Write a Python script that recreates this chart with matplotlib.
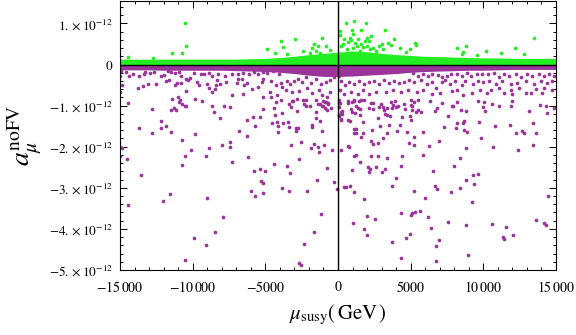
import numpy as np
import matplotlib
matplotlib.use('Agg')
import matplotlib.pyplot as plt

plt.rcParams['font.family'] = ['STIXGeneral', 'DejaVu Serif']
plt.rcParams['mathtext.fontset'] = 'stix'

# envelope of the dense bands near zero (x in GeV, y in units of 1e-12)
band_x = [-15000, -14000, -13000, -12000, -11000, -10000, -9000, -8000, -7000, -6000, -5000,
          -4000, -3000, -2000, -1000, 0, 1000, 2000, 3000, 4000, 5000,
          6000, 7000, 8000, 9000, 10000, 11000, 12000, 13000, 14000, 15000]
green_top = [0.13, 0.13, 0.13, 0.13, 0.13, 0.13, 0.13, 0.13, 0.13, 0.14, 0.15,
             0.17, 0.20, 0.24, 0.27, 0.30, 0.33, 0.31, 0.27, 0.24, 0.22,
             0.20, 0.19, 0.18, 0.17, 0.16, 0.16, 0.15, 0.15, 0.15, 0.15]
purple_bottom = [-0.13, -0.13, -0.13, -0.14, -0.14, -0.14, -0.14, -0.14, -0.15, -0.16, -0.17,
                 -0.19, -0.22, -0.26, -0.29, -0.29, -0.28, -0.26, -0.24, -0.22, -0.19,
                 -0.17, -0.16, -0.15, -0.14, -0.14, -0.13, -0.12, -0.12, -0.12, -0.12]

# scattered green points above the band
green_pts = [
    (-10550, 1.00), (-10430, 0.44), (-11390, 0.27), (-10700, 0.27), (-14450, 0.18), (-12730, 0.16),
    (-4860, 0.37), (-3890, 0.56), (-3760, 0.42), (-2930, 0.61), (-1070, 0.64), (-1650, 0.50),
    (-1380, 0.44), (-850, 0.44), (-1760, 0.40), (-1490, 0.34), (-4310, 0.27), (-3510, 0.26),
    (-2410, 0.32), (-1900, 0.27), (-1260, 0.28), (-570, 0.36), (530, 1.00), (1080, 1.05),
    (1910, 1.00), (170, 0.81), (120, 0.71), (960, 0.83), (1030, 0.75), (1560, 0.84),
    (2300, 0.69), (2020, 0.65), (1890, 0.58), (3260, 0.84), (810, 0.64), (920, 0.60),
    (1200, 0.53), (340, 0.50), (230, 0.46), (3850, 0.61), (5280, 0.52), (5390, 0.48),
    (2820, 0.46), (3060, 0.50), (3440, 0.52), (3670, 0.48), (2130, 0.57), (4250, 0.41),
    (4980, 0.38), (4660, 0.30), (8220, 0.40), (8830, 0.44), (8530, 0.26), (8600, 0.30),
    (9560, 0.24), (10210, 0.34), (11190, 0.27), (12210, 0.40), (12780, 0.26), (13460, 0.64),
    (2410, 0.41), (2640, 0.34), (1720, 0.42), (1490, 0.34), (600, 0.38), (1300, 0.45),
    (1000, 0.40), (2000, 0.45), (700, 0.55), (1600, 0.50), (2200, 0.38), (3100, 0.37),
    (400, 0.62), (1400, 0.62),
]

# purple points just below the band
purple_near = [
    (-14930, -0.16), (-14610, -0.19), (-14350, -0.29), (-14080, -0.23), (-13710, -0.27), (-13370, -0.24),
    (-13280, -0.19), (-12910, -0.21), (-12680, -0.19), (-12150, -0.29), (-11990, -0.25), (-11720, -0.16),
    (-11490, -0.19), (-11210, -0.21), (-10910, -0.19), (-10800, -0.27), (-10460, -0.35), (-10290, -0.37),
    (-10200, -0.34), (-10800, -0.45), (-11210, -0.51), (-11080, -0.46), (-11830, -0.39), (-11650, -0.37),
    (-14970, -0.29), (-14880, -0.51), (-13780, -0.58), (-13420, -0.53), (-13090, -0.47), (-12490, -0.47),
    (-10430, -0.65), (-14970, -0.66), (-11440, -0.83), (-10980, -0.78), (-10940, -0.92),
    (-9880, -0.21), (-9720, -0.43), (-9430, -0.24), (-9190, -0.23), (-8880, -0.21), (-8640, -0.27),
    (-8230, -0.23), (-7770, -0.29), (-7310, -0.24), (-6850, -0.24), (-6510, -0.21), (-6100, -0.24),
    (-5800, -0.19), (-5480, -0.24), (-5130, -0.19), (-9540, -0.49), (-9030, -0.47), (-8880, -0.57),
    (-8690, -0.67), (-8390, -0.49), (-8350, -0.37), (-8140, -0.47), (-8460, -0.59), (-7730, -0.43),
    (-6970, -0.45), (-6850, -0.36), (-6630, -0.35), (-6440, -0.51), (-6280, -0.44), (-5940, -0.59),
    (-5480, -0.55), (-5200, -0.43), (-5130, -0.36), (-7310, -0.74), (-6510, -0.71), (-5130, -0.79),
    (-9840, -0.83),
    (-4860, -0.21), (-4470, -0.16), (-4060, -0.23), (-4630, -0.39), (-3940, -0.45), (-4290, -0.49),
    (-3830, -0.55), (-3480, -0.39), (-3320, -0.47), (-3030, -0.41), (-2720, -0.35), (-2450, -0.43),
    (-2220, -0.31), (-1880, -0.45), (-1530, -0.35), (-1190, -0.47), (-850, -0.43), (-570, -0.37),
    (-280, -0.31), (-3600, -0.61), (-3140, -0.67), (-2680, -0.65), (-2110, -0.58), (-1760, -0.70),
    (-1310, -0.61), (-1070, -0.75), (-570, -0.67), (-4700, -0.67), (-4170, -0.75), (-3940, -0.87),
    (-4630, -0.79), (-2790, -0.83), (-2170, -0.86), (-1530, -0.87), (-850, -0.92), (-730, -0.79),
    (-3250, -1.04), (-2220, -1.00), (-500, -1.05),
    (100, -0.27), (210, -0.39), (480, -0.49), (780, -0.43), (1130, -0.47), (1470, -0.41),
    (1820, -0.47), (2160, -0.43), (2500, -0.41), (2850, -0.47), (3190, -0.37), (3540, -0.45),
    (3880, -0.39), (4220, -0.45), (4570, -0.43), (4910, -0.37), (170, -0.63), (440, -0.71),
    (890, -0.67), (1360, -0.71), (1700, -0.61), (2160, -0.71), (2610, -0.67), (3300, -0.67),
    (3760, -0.63), (4330, -0.67), (4800, -0.63), (100, -0.87), (670, -0.89), (1130, -0.87),
    (2270, -0.94), (2960, -0.95), (3650, -0.92), (4110, -1.02), (4570, -0.95), (5020, -0.87),
    (890, -1.08), (2160, -1.05), (3190, -1.10),
    (5190, -0.21), (5530, -0.27), (5880, -0.24), (6220, -0.29), (6500, -0.23), (6860, -0.26),
    (7180, -0.31), (7480, -0.29), (7770, -0.24), (8170, -0.24), (8510, -0.27), (8860, -0.21),
    (9150, -0.27), (9540, -0.23), (9890, -0.24), (5260, -0.43), (5710, -0.37), (6100, -0.47),
    (6450, -0.43), (6720, -0.57), (7140, -0.43), (7360, -0.37), (7710, -0.47), (8050, -0.41),
    (8510, -0.51), (8740, -0.41), (9320, -0.47), (9660, -0.39), (10000, -0.43), (5420, -0.67),
    (5880, -0.63), (6450, -0.71), (7020, -0.70), (7820, -0.65), (8170, -0.61), (8630, -0.75),
    (9200, -0.70), (9770, -0.61), (5530, -0.87), (6330, -0.89), (9660, -0.89), (5530, -1.10),
    (6790, -1.05), (7940, -1.00), (10000, -1.04),
    (10350, -0.24), (10730, -0.21), (11080, -0.31), (11420, -0.24), (11770, -0.29), (12230, -0.23),
    (12570, -0.31), (13030, -0.24), (13380, -0.29), (13830, -0.23), (14170, -0.29), (14520, -0.24),
    (14860, -0.27), (10390, -0.39), (10850, -0.47), (11310, -0.41), (11880, -0.47), (12340, -0.45),
    (12910, -0.39), (13490, -0.47), (13950, -0.41), (14410, -0.45), (14750, -0.39), (10510, -0.63),
    (11080, -0.57), (11880, -0.61), (12450, -0.57), (13600, -0.59), (14170, -0.57), (14750, -0.63),
    (10280, -0.70), (11420, -0.70), (12000, -0.71), (12910, -0.70), (13260, -0.70), (14060, -0.70),
    (10620, -0.95), (11880, -1.00), (14290, -1.02),
]

# sparse purple points further down
purple_far = [
    (-14470, -0.94), (-12770, -1.09), (-11460, -1.10), (-11300, -1.07), (-11170, -1.10), (-10700, -0.97),
    (-10550, -1.00), (-10430, -1.01), (-10890, -0.87), (-9330, -0.89), (-8690, -1.01), (-8500, -1.16),
    (-7860, -1.01), (-7450, -1.04), (-8090, -1.30), (-13660, -1.55), (-12820, -1.67), (-12150, -1.38),
    (-12150, -1.55), (-11810, -1.50), (-11460, -1.64), (-10700, -1.84), (-9810, -1.69), (-10090, -2.09),
    (-10530, -2.23), (-10700, -2.44), (-9050, -2.23), (-8850, -2.02), (-8000, -1.96), (-7400, -1.89),
    (-7400, -2.01), (-7310, -2.37), (-6780, -1.62), (-6230, -1.36), (-6230, -1.74), (-5820, -1.28),
    (-5680, -1.50), (-5390, -1.28), (-5180, -1.09), (-6160, -2.25), (-4380, -1.06), (-4310, -1.24),
    (-4270, -0.92), (-3830, -1.19), (-3760, -1.43), (-4510, -1.43), (-4170, -1.40), (-4130, -1.50),
    (-4100, -1.65), (-3410, -1.40), (-3390, -1.53), (-3370, -0.96), (-3190, -0.90), (-3100, -0.88),
    (-2860, -1.54), (-2770, -1.54), (-2840, -1.13), (-2910, -1.63), (-2380, -0.87), (-2310, -0.95),
    (-1950, -1.00), (-1810, -1.46), (-1810, -1.52), (-1530, -1.16), (-1510, -1.29), (-1210, -1.38),
    (-1350, -0.95), (-1240, -0.97), (-1120, -1.00), (-1000, -1.01), (-890, -1.07), (-780, -1.10),
    (-660, -0.95), (-1030, -0.89), (-890, -0.92), (-710, -0.94), (-1070, -1.62), (-3210, -1.96),
    (-2550, -1.89), (-1830, -2.02), (-1650, -1.93), (-1400, -2.01), (-1330, -2.14), (-940, -1.96),
    (-2680, -2.30), (-730, -2.52), (-3280, -2.63), (-4380, -2.43), (-3480, -2.47), (-5750, -2.60),
    (-5000, -2.60), (-5390, -2.54), (-5320, -2.83), (-5180, -2.88), (-5160, -3.13), (-6010, -3.07),
    (-5680, -3.20), (-3830, -3.00), (-3340, -3.07), (-2150, -3.07), (-1470, -2.81), (-300, -2.86),
    (-40, -3.03), (-14970, -2.01), (-14830, -2.02), (-14970, -2.23), (-14490, -2.30), (-13530, -2.69),
    (-14420, -3.42), (-12010, -3.32), (-11580, -3.15), (-8990, -3.25), (-7880, -3.71), (-8440, -4.07),
    (-9930, -4.23), (-9050, -4.39), (-10550, -4.75), (-1620, -4.07), (-1140, -3.63), (-2310, -4.36),
    (-2680, -4.82), (-2520, -4.87), (-430, -2.08),
    (120, -0.94), (230, -1.16), (300, -1.21), (100, -1.23), (190, -1.32), (230, -1.34),
    (50, -0.94), (70, -1.04), (280, -1.13), (50, -1.25), (690, -0.94), (990, -0.92),
    (1080, -0.89), (1270, -1.00), (1400, -1.05), (1490, -1.08), (1610, -0.87), (1790, -0.87),
    (1510, -1.24), (1420, -0.90), (940, -1.16), (1150, -1.18), (830, -1.38), (720, -1.34),
    (1720, -1.40), (1100, -1.57), (1240, -1.58), (1100, -1.66), (1270, -1.66), (1720, -1.67),
    (1560, -1.77), (2410, -1.09), (2440, -0.94), (2820, -1.04), (3120, -1.04), (3350, -1.05),
    (3580, -1.26), (3400, -1.24), (3210, -1.20), (3700, -1.06), (3810, -0.98), (4020, -1.04),
    (3950, -0.90), (2780, -1.30), (2870, -1.50), (2320, -1.60), (3490, -1.47), (3350, -1.67),
    (4430, -1.27), (4290, -1.47), (4040, -1.62), (4780, -1.64), (4950, -1.25), (5050, -1.34),
    (4890, -1.92), (5230, -1.77), (5260, -1.96), (5850, -1.64), (230, -2.09), (670, -1.98),
    (740, -2.01), (1080, -2.23), (1240, -2.21), (1540, -2.38), (990, -2.57), (2250, -1.85),
    (2440, -1.93), (2750, -1.91), (3080, -1.79), (2250, -2.23), (2730, -2.23), (3400, -2.27),
    (2090, -2.49), (2230, -2.55), (2130, -2.61), (2640, -2.50), (3060, -2.61), (3260, -2.55),
    (4430, -2.23), (4360, -2.47), (4020, -2.76), (440, -2.97), (530, -2.99), (810, -2.95),
    (1130, -3.10), (1820, -3.27), (3740, -2.95), (5210, -3.08), (6010, -3.25), (5880, -2.20),
    (6290, -1.98), (6980, -1.86), (6560, -2.59), (6670, -2.96), (6840, -3.03), (7800, -3.10),
    (8010, -2.47), (8420, -2.27), (8420, -3.00), (8830, -2.81), (8830, -2.03), (9270, -2.69),
    (9660, -2.66), (9340, -2.91), (9250, -3.34), (9870, -1.80), (10690, -2.01), (10830, -1.50),
    (11830, -1.47), (12270, -1.66), (12690, -1.62), (12820, -1.67), (12410, -2.08), (13400, -1.95),
    (13440, -1.43), (13650, -1.67), (13170, -1.12), (13930, -0.99), (14360, -1.19), (14480, -3.20),
    (14890, -1.05), (4360, -3.61), (5020, -3.67), (5120, -3.61), (5300, -3.59), (5670, -3.56),
    (2020, -3.69), (2570, -3.76), (1060, -3.85), (1820, -4.00), (2020, -4.14), (3740, -4.31),
    (4660, -4.22), (4980, -4.12), (4360, -4.70), (6220, -3.71), (6430, -3.97), (6770, -4.41),
    (6980, -4.27), (6770, -4.77), (7600, -3.83), (8830, -3.90), (8970, -4.63), (10620, -3.88),
    (11590, -3.95), (11350, -4.19), (11450, -4.24), (12070, -4.14), (13600, -3.78), (14200, -3.85),
    (14290, -3.90), (4640, -1.08), (5070, -1.10), (5120, -1.00), (5000, -0.98), (5260, -0.92),
    (5370, -1.16), (5740, -1.16), (6670, -1.12), (7180, -0.94), (7600, -1.26), (7870, -1.01),
    (8190, -1.43), (8580, -1.43), (8700, -1.38), (8100, -1.55), (8650, -1.60), (8900, -1.64),
    (8220, -0.92), (8490, -1.10), (8830, -1.12), (9730, -1.40), (10110, -1.13), (10070, -0.92),
    (11060, -1.01), (12000, -0.89), (7270, -1.52),
]

x_ticks = [-15000, -10000, -5000, 0, 5000, 10000, 15000]
x_labels = [r'$-15\,000$', r'$-10\,000$', r'$-5000$', r'$0$', r'$5000$', r'$10\,000$', r'$15\,000$']
y_ticks = [1, 0, -1, -2, -3, -4, -5]
y_labels = [r'$1.\times10^{-12}$', r'$0$', r'$-1.\times10^{-12}$', r'$-2.\times10^{-12}$',
            r'$-3.\times10^{-12}$', r'$-4.\times10^{-12}$', r'$-5.\times10^{-12}$']

GREEN = '#22ee22'
PURPLE = '#9a339a'
scale = 1e-12

fig = plt.figure(figsize=(5.76, 3.35), dpi=100)
ax = fig.add_axes([0.2083, 0.194, 0.757, 0.804])

bx = np.array(band_x)
ax.fill_between(bx, 0, np.array(green_top) * scale, color=GREEN, lw=0, zorder=1)
ax.fill_between(bx, 0, np.array(purple_bottom) * scale, color=PURPLE, lw=0, zorder=1)

gx, gy = np.array(green_pts).T
ax.scatter(gx, gy * scale, s=7, color=GREEN, lw=0, zorder=2)

pn = np.array(purple_near)
pf = np.array(purple_far)
ax.scatter(pn[:, 0], pn[:, 1] * scale, s=7, color=PURPLE, lw=0, zorder=2)
ax.scatter(pf[:, 0], pf[:, 1] * scale, s=7, color=PURPLE, lw=0, zorder=2)

ax.axhline(0, color='black', lw=1.0, zorder=3)
ax.axvline(0, color='black', lw=1.0, zorder=3)

ax.set_xlim(-15000, 15000)
ax.set_ylim(-5.0 * scale, 1.553 * scale)

ax.set_xticks(x_ticks)
ax.set_xticklabels(x_labels)
ax.set_xticks(np.arange(-15000, 15001, 1000), minor=True)
ax.set_yticks([v * scale for v in y_ticks])
ax.set_yticklabels(y_labels)
ax.set_yticks(np.arange(-5.0, 1.55, 0.2) * scale, minor=True)

ax.tick_params(which='both', direction='in', top=True, right=True, width=0.7)
ax.tick_params(axis='x', labelsize=10, pad=7)
ax.tick_params(axis='y', labelsize=9.5, pad=5)
ax.tick_params(which='major', length=5)
ax.tick_params(which='minor', length=2.5)
for s in ax.spines.values():
    s.set_linewidth(0.8)

ax.set_xlabel(r'$\mu_{\mathrm{susy}}(\,\mathrm{GeV}\,)$', fontsize=15, labelpad=6)
ax.set_ylabel(r'$a_{\mu}^{\mathrm{noFV}}$', fontsize=20, labelpad=4)

plt.savefig('out.png', dpi=100)
